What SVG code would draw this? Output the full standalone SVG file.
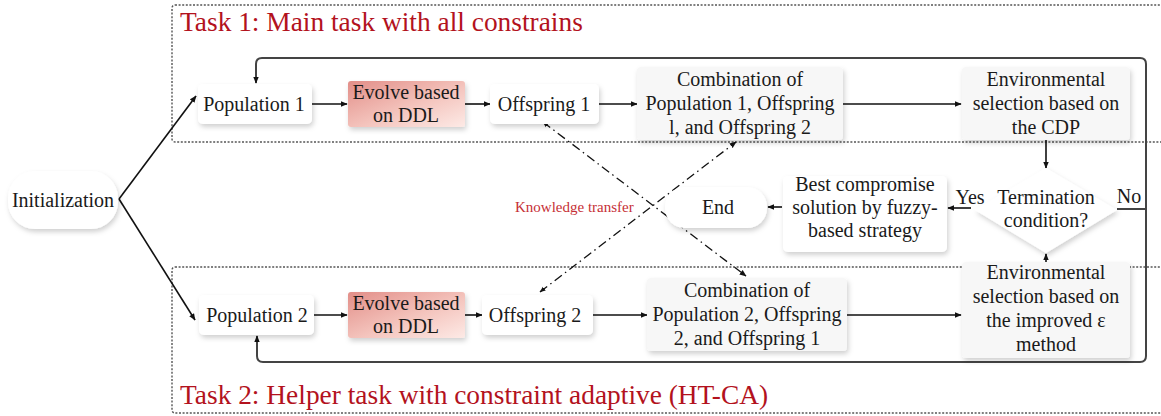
<svg xmlns="http://www.w3.org/2000/svg" width="1161" height="416" viewBox="0 0 1161 416">
  <defs>
    <style>
      .t { font-family: "Liberation Serif", "Times New Roman", serif; font-size: 20px; fill: #1a1a1a; text-anchor: middle; }
      .title { font-family: "Liberation Serif", "Times New Roman", serif; font-size: 27.4px; fill: #b3121d; }
      .kt { font-family: "Liberation Serif", "Times New Roman", serif; font-size: 15px; fill: #c62f36; }
      .node { fill: #ffffff; filter: url(#shadow); }
      .node-g { fill: #f7f7f7; filter: url(#shadow); }
      .evolve { fill: url(#evolveGrad); filter: url(#shadow); }
      .task { fill: none; stroke: #555; stroke-width: 1.4; stroke-dasharray: 2 1.6; }
      .arrow { fill: none; stroke: #111; stroke-width: 1.6; marker-end: url(#head); }
      .loop { fill: none; stroke: #444; stroke-width: 2; }
      .transfer { fill: none; stroke: #111; stroke-width: 1.3; stroke-dasharray: 9 4 1.5 4; marker-end: url(#head); marker-start: url(#headStart); }
    </style>
    <filter id="shadow" x="-20%" y="-30%" width="140%" height="160%">
      <feDropShadow dx="1.5" dy="3" stdDeviation="2.6" flood-color="#000" flood-opacity="0.18"/>
    </filter>
    <linearGradient id="evolveGrad" x1="0" y1="0" x2="1" y2="1">
      <stop offset="0" stop-color="#e28e88"/>
      <stop offset="0.55" stop-color="#f4c4bd"/>
      <stop offset="1" stop-color="#fdeae6"/>
    </linearGradient>
    <marker id="head" viewBox="0 0 10 10" refX="9" refY="5" markerWidth="7" markerHeight="7" markerUnits="userSpaceOnUse" orient="auto">
      <path d="M0,1 L10,5 L0,9 Z" fill="#111"/>
    </marker>
    <marker id="headStart" viewBox="0 0 10 10" refX="1" refY="5" markerWidth="6" markerHeight="6" markerUnits="userSpaceOnUse" orient="auto">
      <path d="M10,1 L0,5 L10,9 Z" fill="#111"/>
    </marker>
  </defs>

  <rect width="1161" height="416" fill="#ffffff"/>

  <!-- task frames -->
  <g id="task1">
    <rect class="task" x="172" y="5" width="1000" height="137" rx="3"/>
    <text class="title" x="180" y="31">Task 1: Main task with all constrains</text>
  </g>
  <g id="task2">
    <rect class="task" x="172" y="267" width="1000" height="146" rx="3"/>
    <text class="title" x="180" y="404">Task 2: Helper task with constraint adaptive (HT-CA)</text>
  </g>

  <!-- connectors -->
  <g id="connectors">
    <path class="loop" d="M1117,209 H1146 V64 Q1146,58 1140,58 H262 Q256,58 256,64 V83" marker-end="url(#head)"/>
    <path class="loop" d="M1146,209 V356 Q1146,362 1140,362 H263 Q257,362 257,356 V336" marker-end="url(#head)"/>
    <line class="arrow" x1="119" y1="199" x2="196" y2="96"/>
    <line class="arrow" x1="119" y1="199" x2="195" y2="320"/>
    <line class="arrow" x1="312" y1="104" x2="347" y2="104"/>
    <line class="arrow" x1="465" y1="104" x2="490" y2="104"/>
    <line class="arrow" x1="599" y1="104" x2="637" y2="104"/>
    <line class="arrow" x1="843" y1="104" x2="961" y2="104"/>
    <line class="arrow" x1="1046" y1="140" x2="1046" y2="168"/>
    <line class="arrow" x1="971" y1="208" x2="948" y2="208"/>
    <line class="arrow" x1="782" y1="207" x2="768" y2="207"/>
    <line class="arrow" x1="1046" y1="270" x2="1046" y2="254"/>
    <line class="arrow" x1="314" y1="315" x2="347" y2="315"/>
    <line class="arrow" x1="465" y1="315" x2="482" y2="315"/>
    <line class="arrow" x1="593" y1="315" x2="647" y2="315"/>
    <line class="arrow" x1="847" y1="315" x2="961" y2="315"/>
    <line class="transfer" x1="543" y1="122" x2="746" y2="276"/>
    <line class="transfer" x1="540" y1="292" x2="736" y2="142"/>
  </g>

  <!-- nodes -->
  <g id="initialization">
    <rect class="node" x="8" y="171" width="110" height="58" rx="27"/>
    <text class="t" x="63" y="207">Initialization</text>
  </g>
  <g id="population1">
    <rect class="node" x="198" y="84" width="114" height="40" rx="5"/>
    <text class="t" x="254" y="111">Population 1</text>
  </g>
  <g id="evolve1">
    <rect class="evolve" x="348" y="81" width="117" height="46" rx="3"/>
    <text class="t" x="406" y="99">Evolve based</text>
    <text class="t" x="406" y="122">on DDL</text>
  </g>
  <g id="offspring1">
    <rect class="node" x="490" y="84" width="109" height="40" rx="5"/>
    <text class="t" x="544" y="111">Offspring 1</text>
  </g>
  <g id="combination1">
    <rect class="node-g" x="637" y="67" width="206" height="73" rx="4"/>
    <text class="t" x="740" y="86">Combination of</text>
    <text class="t" x="740" y="110">Population 1, Offspring</text>
    <text class="t" x="740" y="134">l, and Offspring 2</text>
  </g>
  <g id="environmental1">
    <rect class="node-g" x="962" y="67" width="168" height="73" rx="4"/>
    <text class="t" x="1046" y="86">Environmental</text>
    <text class="t" x="1046" y="110">selection based on</text>
    <text class="t" x="1046" y="134">the CDP</text>
  </g>
  <g id="termination">
    <polygon class="node" points="1046,168 1117,210 1046,253 975,210"/>
    <text class="t" x="1046" y="204">Termination</text>
    <text class="t" x="1046" y="227">condition?</text>
    <text class="t" x="970" y="204">Yes</text>
    <text class="t" x="1129" y="203">No</text>
  </g>
  <g id="best">
    <rect class="node" x="783" y="176" width="164" height="76" rx="5"/>
    <text class="t" x="865" y="191">Best compromise</text>
    <text class="t" x="865" y="214">solution by fuzzy-</text>
    <text class="t" x="865" y="237">based strategy</text>
  </g>
  <g id="end">
    <rect class="node" x="665" y="187" width="102" height="41" rx="20"/>
    <text class="t" x="718" y="214">End</text>
  </g>
  <g id="knowledge-transfer">
    <text class="kt" x="515" y="212">Knowledge transfer</text>
  </g>
  <g id="population2">
    <rect class="node" x="199" y="295" width="115" height="40" rx="5"/>
    <text class="t" x="257" y="322">Population 2</text>
  </g>
  <g id="evolve2">
    <rect class="evolve" x="348" y="292" width="117" height="46" rx="3"/>
    <text class="t" x="406" y="310">Evolve based</text>
    <text class="t" x="406" y="333">on DDL</text>
  </g>
  <g id="offspring2">
    <rect class="node" x="482" y="295" width="111" height="40" rx="5"/>
    <text class="t" x="535" y="322">Offspring 2</text>
  </g>
  <g id="combination2">
    <rect class="node-g" x="647" y="278" width="200" height="73" rx="4"/>
    <text class="t" x="747" y="297">Combination of</text>
    <text class="t" x="747" y="321">Population 2, Offspring</text>
    <text class="t" x="747" y="345">2, and Offspring 1</text>
  </g>
  <g id="environmental2">
    <rect class="node-g" x="962" y="262" width="168" height="96" rx="4"/>
    <text class="t" x="1046" y="279">Environmental</text>
    <text class="t" x="1046" y="303">selection based on</text>
    <text class="t" x="1046" y="327">the improved ε</text>
    <text class="t" x="1046" y="351">method</text>
  </g>
</svg>
